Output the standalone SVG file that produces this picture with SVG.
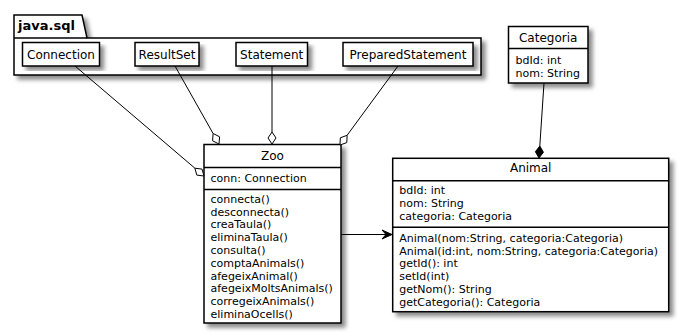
<svg xmlns="http://www.w3.org/2000/svg" width="679" height="334" viewBox="0 0 679 334">
  <defs>
    <filter id="shadow" x="-10%" y="-10%" width="130%" height="130%">
      <feGaussianBlur in="SourceAlpha" stdDeviation="2"/>
      <feOffset dx="4" dy="4" result="off"/>
      <feColorMatrix in="off" type="matrix" values="0 0 0 0 0  0 0 0 0 0  0 0 0 0 0  0 0 0 0.45 0"/>
      <feMerge><feMergeNode/><feMergeNode in="SourceGraphic"/></feMerge>
    </filter>
  </defs>
  <style>
    .box { fill: #fff; stroke: #000; stroke-width: 1.5; }
    .div { stroke: #000; stroke-width: 1.5; }
    .t { font-family: "DejaVu Sans", sans-serif; font-size: 12px; fill: #000; }
    .m { font-family: "DejaVu Sans", sans-serif; font-size: 11px; fill: #000; }
    .pkg { font-family: "DejaVu Sans", sans-serif; font-size: 13px; font-weight: bold; fill: #000; }
    .edge { stroke: #000; stroke-width: 1; fill: none; }
    .agg { fill: #fff; stroke: #000; stroke-width: 1; }
    .comp { fill: #000; stroke: #000; stroke-width: 1; }
  </style>

  <!-- package java.sql -->
  <g id="java.sql">
    <path class="box" filter="url(#shadow)" d="M14,15 H82 L87,38 H481 V75 H14 Z"/>
    <line class="div" x1="14" y1="38" x2="87" y2="38"/>
    <text class="pkg" x="18" y="30">java.sql</text>
  </g>

  <g id="Connection">
    <rect class="box" filter="url(#shadow)" x="22.5" y="42.5" width="77" height="23.5"/>
    <text class="t" x="61" y="59" text-anchor="middle">Connection</text>
  </g>
  <g id="ResultSet">
    <rect class="box" filter="url(#shadow)" x="135" y="42.5" width="64" height="23.5"/>
    <text class="t" x="167" y="59" text-anchor="middle">ResultSet</text>
  </g>
  <g id="Statement">
    <rect class="box" filter="url(#shadow)" x="236" y="42.5" width="71.5" height="23.5"/>
    <text class="t" x="271.7" y="59" text-anchor="middle">Statement</text>
  </g>
  <g id="PreparedStatement">
    <rect class="box" filter="url(#shadow)" x="343" y="42.5" width="130" height="23.5"/>
    <text class="t" x="408" y="59" text-anchor="middle">PreparedStatement</text>
  </g>

  <!-- Categoria -->
  <g id="Categoria">
    <rect class="box" filter="url(#shadow)" x="508.5" y="26.5" width="79.5" height="56.5"/>
    <line class="div" x1="508.5" y1="48.5" x2="588" y2="48.5"/>
    <text class="t" x="548.2" y="42" text-anchor="middle">Categoria</text>
    <text class="m" x="515.5" y="63.5">bdId: int</text>
    <text class="m" x="515.5" y="76.5">nom: String</text>
  </g>

  <!-- Zoo -->
  <g id="Zoo">
    <rect class="box" filter="url(#shadow)" x="204" y="144.5" width="137" height="178.5"/>
    <line class="div" x1="204" y1="167.5" x2="341" y2="167.5"/>
    <line class="div" x1="204" y1="189.5" x2="341" y2="189.5"/>
    <text class="t" x="272.5" y="160" text-anchor="middle">Zoo</text>
    <text class="m" x="210.5" y="181.7">conn: Connection</text>
    <text class="m" x="210.5" y="202.7">connecta()</text>
    <text class="m" x="210.5" y="215.5">desconnecta()</text>
    <text class="m" x="210.5" y="228.3">creaTaula()</text>
    <text class="m" x="210.5" y="241.1">eliminaTaula()</text>
    <text class="m" x="210.5" y="253.9">consulta()</text>
    <text class="m" x="210.5" y="266.7">comptaAnimals()</text>
    <text class="m" x="210.5" y="279.5">afegeixAnimal()</text>
    <text class="m" x="210.5" y="292.3">afegeixMoltsAnimals()</text>
    <text class="m" x="210.5" y="305.1">corregeixAnimals()</text>
    <text class="m" x="210.5" y="317.9">eliminaOcells()</text>
  </g>

  <!-- Animal -->
  <g id="Animal">
    <rect class="box" filter="url(#shadow)" x="392.7" y="158.3" width="276" height="153.4"/>
    <line class="div" x1="392.7" y1="180.7" x2="668.7" y2="180.7"/>
    <line class="div" x1="392.7" y1="227.3" x2="668.7" y2="227.3"/>
    <text class="t" x="530.7" y="172.3" text-anchor="middle">Animal</text>
    <text class="m" x="399.3" y="194.3">bdId: int</text>
    <text class="m" x="399.3" y="207.2">nom: String</text>
    <text class="m" x="399.3" y="220">categoria: Categoria</text>
    <text class="m" x="399.3" y="241.7">Animal(nom:String, categoria:Categoria)</text>
    <text class="m" x="399.3" y="254.5">Animal(id:int, nom:String, categoria:Categoria)</text>
    <text class="m" x="399.3" y="267.3">getId(): int</text>
    <text class="m" x="399.3" y="280.1">setId(int)</text>
    <text class="m" x="399.3" y="292.9">getNom(): String</text>
    <text class="m" x="399.3" y="305.7">getCategoria(): Categoria</text>
  </g>

  <!-- connectors -->
  <g id="connectors">
    <line class="edge" x1="75" y1="66" x2="194.9" y2="168.2"/>
    <polygon class="agg" points="204,176 196.8,175.1 194.9,168.2 202,169.1"/>

    <line class="edge" x1="175" y1="66" x2="213.1" y2="133.5"/>
    <polygon class="agg" points="219,144 212.6,140.8 213.1,133.5 219.6,136.8"/>

    <line class="edge" x1="272" y1="66" x2="272" y2="132"/>
    <polygon class="agg" points="272,144 268,138 272,132 276,138"/>

    <line class="edge" x1="398" y1="66" x2="347.1" y2="135.3"/>
    <polygon class="agg" points="340,145 340.3,137.8 347.1,135.3 346.8,142.6"/>

    <line class="edge" x1="544" y1="83" x2="539.8" y2="146"/>
    <polygon class="comp" points="539,158 535.4,151.7 539.8,146 543.4,152.3"/>

    <line class="edge" x1="341" y1="234.5" x2="390" y2="234.5"/>
    <polygon class="comp" points="392,234.5 382,230 386,234.5 382,239"/>
  </g>
</svg>
